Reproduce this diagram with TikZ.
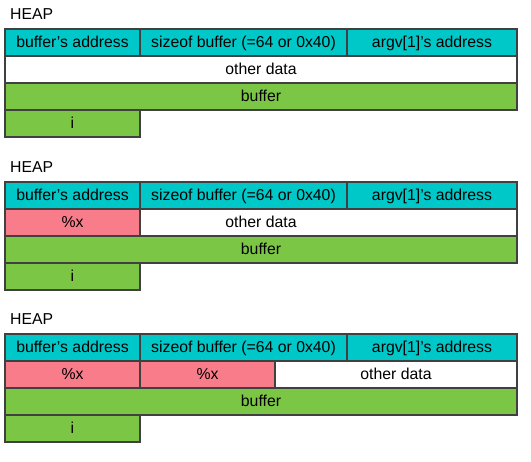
\documentclass[tikz,border=0pt]{standalone}
\usepackage{fontspec}
\setmainfont{Liberation Sans}
\definecolor{teal}{RGB}{0,200,200}
\definecolor{grn}{RGB}{124,198,70}
\definecolor{pnk}{RGB}{248,124,138}
\definecolor{edge}{RGB}{64,64,64}
\begin{document}
\begin{tikzpicture}[x=1pt,y=-1pt,
  cell/.style={draw=edge,line width=1.2pt},
  lbl/.style={font=\fontsize{15.8}{18}\selectfont,inner sep=0pt,text height=14pt,text depth=3pt}]
\useasboundingbox (0,0) rectangle (531,462);
\foreach \T/\mode in {29/0,182/1,334/2}{
  \node[lbl,anchor=west] (heap\mode) at (10,\T-15) {HEAP};
  % top row
  \filldraw[cell,fill=teal] (5,\T) rectangle (140,\T+27);
  \filldraw[cell,fill=teal] (140,\T) rectangle (347,\T+27);
  \filldraw[cell,fill=teal] (347,\T) rectangle (517,\T+27);
  \node[lbl] (ba\mode) at (72.5,\T+13.5) {buffer’s address};
  \node[lbl] (sz\mode) at (243.5,\T+13.5) {sizeof buffer (=64 or 0x40)};
  \node[lbl] (av\mode) at (432,\T+13.5) {argv[1]’s address};
  % second row
  \ifnum\mode=0
    \filldraw[cell,fill=white] (5,\T+27) rectangle (517,\T+54);
    \node[lbl] (od\mode) at (261,\T+40.5) {other data};
  \fi
  \ifnum\mode=1
    \filldraw[cell,fill=pnk] (5,\T+27) rectangle (140,\T+54);
    \filldraw[cell,fill=white] (140,\T+27) rectangle (517,\T+54);
    \node[lbl] (xa\mode) at (72.5,\T+40.5) {\%x};
    \node[lbl] (od\mode) at (261,\T+40.5) {other data};
  \fi
  \ifnum\mode=2
    \filldraw[cell,fill=pnk] (5,\T+27) rectangle (140,\T+54);
    \filldraw[cell,fill=pnk] (140,\T+27) rectangle (275,\T+54);
    \filldraw[cell,fill=white] (275,\T+27) rectangle (517,\T+54);
    \node[lbl] (xa\mode) at (72.5,\T+40.5) {\%x};
    \node[lbl] (xb\mode) at (207.5,\T+40.5) {\%x};
    \node[lbl] (od\mode) at (396,\T+40.5) {other data};
  \fi
  % buffer
  \filldraw[cell,fill=grn] (5,\T+54) rectangle (517,\T+81);
  \node[lbl] (bf\mode) at (261,\T+67.5) {buffer};
  % i
  \filldraw[cell,fill=grn] (5,\T+81) rectangle (140,\T+108);
  \node[lbl] (ii\mode) at (72.5,\T+94.5) {i};
}
\end{tikzpicture}
\end{document}
